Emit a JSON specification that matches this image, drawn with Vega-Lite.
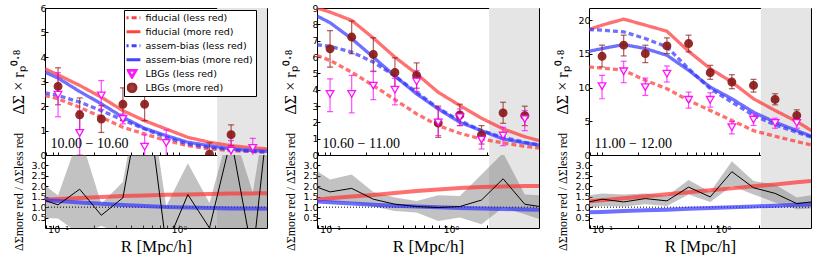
{
"$schema": "https://vega.github.io/schema/vega-lite/v6.json",
"padding": {"left": 9, "top": 2, "right": 0, "bottom": 0},
"background": "white",
"datasets": {
"L1": [
{"R":0.078,"fl":2.43,"fm":3.52,"al":2.54,"am":3.38},
{"R":0.1,"fl":2.29,"fm":3.27,"al":2.43,"am":3.14},
{"R":0.151,"fl":1.95,"fm":2.84,"al":2.16,"am":2.59},
{"R":0.228,"fl":1.54,"fm":2.36,"al":1.81,"am":2.09},
{"R":0.344,"fl":1.13,"fm":1.81,"al":1.43,"am":1.54},
{"R":0.52,"fl":0.86,"fm":1.40,"al":1.06,"am":1.09},
{"R":0.785,"fl":0.59,"fm":1.06,"al":0.72,"am":0.79},
{"R":1.185,"fl":0.38,"fm":0.72,"al":0.45,"am":0.52},
{"R":1.79,"fl":0.25,"fm":0.52,"al":0.31,"am":0.38},
{"R":2.7,"fl":0.18,"fm":0.38,"al":0.22,"am":0.25},
{"R":4.08,"fl":0.14,"fm":0.29,"al":0.15,"am":0.18},
{"R":5.4,"fl":0.11,"fm":0.25,"al":0.12,"am":0.15}],
"L2": [
{"R":0.078,"fl":6.09,"fm":9.0,"al":6.75,"am":8.51},
{"R":0.1,"fl":5.79,"fm":8.75,"al":6.65,"am":8.10},
{"R":0.151,"fl":5.07,"fm":8.24,"al":6.30,"am":7.12},
{"R":0.228,"fl":4.25,"fm":7.16,"al":5.69,"am":5.99},
{"R":0.344,"fl":3.39,"fm":5.99,"al":4.83,"am":4.83},
{"R":0.52,"fl":2.52,"fm":4.97,"al":3.84,"am":3.74},
{"R":0.785,"fl":1.80,"fm":3.84,"al":2.86,"am":2.82},
{"R":1.185,"fl":1.33,"fm":3.03,"al":2.11,"am":2.00},
{"R":1.79,"fl":0.98,"fm":2.25,"al":1.49,"am":1.49},
{"R":2.7,"fl":0.74,"fm":1.60,"al":1.08,"am":0.98},
{"R":4.08,"fl":0.53,"fm":1.12,"al":0.78,"am":0.74},
{"R":5.4,"fl":0.43,"fm":0.88,"al":0.61,"am":0.61}],
"L3": [
{"R":0.078,"fl":13.05,"fm":18.61,"al":18.61,"am":15.38},
{"R":0.1,"fl":12.9,"fm":19.26,"al":18.51,"am":15.78},
{"R":0.151,"fl":12.56,"fm":20.15,"al":18.26,"am":16.38},
{"R":0.228,"fl":11.07,"fm":19.26,"al":17.27,"am":15.78},
{"R":0.344,"fl":9.83,"fm":18.36,"al":16.03,"am":14.79},
{"R":0.52,"fl":8.09,"fm":15.38,"al":12.8,"am":12.56},
{"R":0.785,"fl":6.6,"fm":12.8,"al":9.83,"am":10.07},
{"R":1.185,"fl":5.11,"fm":10.82,"al":7.84,"am":8.34},
{"R":1.79,"fl":3.62,"fm":8.34,"al":5.86,"am":6.35},
{"R":2.7,"fl":2.78,"fm":6.6,"al":4.47,"am":4.86},
{"R":4.08,"fl":1.99,"fm":4.96,"al":3.37,"am":3.62},
{"R":5.4,"fl":1.49,"fm":3.62,"al":2.63,"am":2.78}],
"P1": [
{"R":0.1,"s":"lm","v":2.80,"lo":2.05,"hi":3.56},
{"R":0.151,"s":"lm","v":1.64,"lo":0.95,"hi":2.33},
{"R":0.228,"s":"lm","v":1.47,"lo":0.92,"hi":2.02},
{"R":0.344,"s":"lm","v":2.07,"lo":1.40,"hi":2.74},
{"R":0.52,"s":"lm","v":2.07,"lo":1.40,"hi":2.73},
{"R":1.79,"s":"lm","v":0.03,"lo":-0.5,"hi":0.5},
{"R":2.7,"s":"lm","v":0.83,"lo":0.38,"hi":1.23},
{"R":0.1,"s":"ll","v":2.46,"lo":1.56,"hi":3.36},
{"R":0.151,"s":"ll","v":0.90,"lo":0.0,"hi":1.80},
{"R":0.228,"s":"ll","v":2.43,"lo":1.85,"hi":3.04},
{"R":0.344,"s":"ll","v":1.47,"lo":1.27,"hi":1.67},
{"R":0.52,"s":"ll","v":0.34,"lo":-0.14,"hi":0.82},
{"R":0.785,"s":"ll","v":0.49,"lo":-0.05,"hi":1.02},
{"R":2.7,"s":"ll","v":0.18,"lo":-0.2,"hi":0.59},
{"R":4.08,"s":"ll","v":0.29,"lo":-0.1,"hi":0.68}],
"P2": [
{"R":0.1,"s":"lm","v":6.50,"lo":5.38,"hi":7.61},
{"R":0.151,"s":"lm","v":7.22,"lo":6.2,"hi":8.2},
{"R":0.228,"s":"lm","v":6.16,"lo":5.13,"hi":7.18},
{"R":0.344,"s":"lm","v":5.05,"lo":4.15,"hi":5.95},
{"R":0.52,"s":"lm","v":4.87,"lo":4.09,"hi":5.64},
{"R":0.785,"s":"lm","v":1.96,"lo":1.08,"hi":2.99},
{"R":1.185,"s":"lm","v":2.45,"lo":1.8,"hi":3.11},
{"R":1.79,"s":"lm","v":1.23,"lo":0.67,"hi":1.8},
{"R":2.7,"s":"lm","v":2.58,"lo":1.94,"hi":3.23},
{"R":4.08,"s":"lm","v":2.41,"lo":1.8,"hi":2.99},
{"R":0.1,"s":"ll","v":3.74,"lo":2.66,"hi":4.66},
{"R":0.151,"s":"ll","v":3.74,"lo":2.58,"hi":4.87},
{"R":0.228,"s":"ll","v":4.25,"lo":3.39,"hi":5.11},
{"R":0.344,"s":"ll","v":4.0,"lo":3.07,"hi":4.7},
{"R":0.52,"s":"ll","v":4.5,"lo":3.89,"hi":5.17},
{"R":0.785,"s":"ll","v":2.0,"lo":1.19,"hi":2.86},
{"R":1.185,"s":"ll","v":2.31,"lo":1.8,"hi":2.82},
{"R":1.79,"s":"ll","v":0.94,"lo":0.37,"hi":1.39},
{"R":2.7,"s":"ll","v":1.19,"lo":0.57,"hi":1.7},
{"R":4.08,"s":"ll","v":2.2,"lo":1.49,"hi":2.72}],
"P3": [
{"R":0.1,"s":"lm","v":14.64,"lo":13.05,"hi":16.28},
{"R":0.151,"s":"lm","v":16.28,"lo":14.69,"hi":17.77},
{"R":0.228,"s":"lm","v":15.04,"lo":13.7,"hi":16.28},
{"R":0.344,"s":"lm","v":16.18,"lo":15.04,"hi":17.37},
{"R":0.52,"s":"lm","v":16.53,"lo":15.29,"hi":17.77},
{"R":0.785,"s":"lm","v":12.21,"lo":11.22,"hi":13.3},
{"R":1.185,"s":"lm","v":10.82,"lo":9.83,"hi":11.91},
{"R":1.79,"s":"lm","v":10.32,"lo":9.33,"hi":11.22},
{"R":2.7,"s":"lm","v":8.24,"lo":7.44,"hi":9.08},
{"R":4.08,"s":"lm","v":5.86,"lo":5.11,"hi":6.7},
{"R":0.1,"s":"ll","v":10.22,"lo":8.34,"hi":11.81},
{"R":0.151,"s":"ll","v":12.41,"lo":10.72,"hi":13.9},
{"R":0.228,"s":"ll","v":10.07,"lo":8.83,"hi":11.41},
{"R":0.344,"s":"ll","v":12.06,"lo":10.82,"hi":13.2},
{"R":0.52,"s":"ll","v":8.19,"lo":6.95,"hi":9.33},
{"R":0.785,"s":"ll","v":8.19,"lo":7.1,"hi":9.23},
{"R":1.185,"s":"ll","v":4.12,"lo":3.13,"hi":4.96},
{"R":1.79,"s":"ll","v":5.26,"lo":4.37,"hi":6.1},
{"R":2.7,"s":"ll","v":4.76,"lo":3.97,"hi":5.46},
{"R":4.08,"s":"ll","v":4.76,"lo":3.97,"hi":5.36}],
"B1": [
{"R":0.078,"k":1.32,"lo":0.48,"hi":2.04,"red":1.36,"blue":1.33},
{"R":0.1,"k":1.11,"lo":0.45,"hi":1.56,"red":1.39,"blue":1.29},
{"R":0.151,"k":1.86,"lo":-0.3,"hi":4.5,"red":1.44,"blue":1.22},
{"R":0.228,"k":0.61,"lo":0.1,"hi":1.16,"red":1.49,"blue":1.16},
{"R":0.344,"k":1.45,"lo":-0.3,"hi":2.2,"red":1.53,"blue":1.10},
{"R":0.52,"k":7.2,"lo":-1,"hi":8,"red":1.56,"blue":1.05},
{"R":0.785,"k":-0.85,"lo":-1,"hi":1.05,"red":1.59,"blue":1.01},
{"R":1.185,"k":1.6,"lo":-1,"hi":3.1,"red":1.61,"blue":0.98},
{"R":1.79,"k":0.0,"lo":-1,"hi":1.2,"red":1.63,"blue":0.96},
{"R":2.7,"k":4.3,"lo":-1,"hi":5,"red":1.65,"blue":0.94},
{"R":4.08,"k":-1.35,"lo":-2,"hi":1.7,"red":1.66,"blue":0.93},
{"R":5.4,"k":5.1,"lo":-1,"hi":6,"red":1.67,"blue":0.92}],
"B2": [
{"R":0.078,"k":1.96,"lo":1.46,"hi":2.73,"red":1.35,"blue":1.27},
{"R":0.1,"k":1.73,"lo":1.25,"hi":2.33,"red":1.43,"blue":1.23},
{"R":0.151,"k":1.90,"lo":1.22,"hi":2.57,"red":1.51,"blue":1.17},
{"R":0.228,"k":1.38,"lo":1.03,"hi":1.73,"red":1.58,"blue":1.11},
{"R":0.344,"k":1.14,"lo":0.82,"hi":1.46,"red":1.68,"blue":1.07},
{"R":0.52,"k":1.03,"lo":0.74,"hi":1.30,"red":1.77,"blue":1.03},
{"R":0.785,"k":0.98,"lo":0.34,"hi":1.57,"red":1.85,"blue":0.99},
{"R":1.185,"k":1.03,"lo":0.50,"hi":1.54,"red":1.92,"blue":0.96},
{"R":1.79,"k":1.34,"lo":0.18,"hi":2.57,"red":1.96,"blue":0.93},
{"R":2.7,"k":2.36,"lo":0.98,"hi":3.6,"red":1.99,"blue":0.91},
{"R":4.08,"k":1.14,"lo":0.66,"hi":1.61,"red":2.01,"blue":0.89},
{"R":5.4,"k":1.03,"lo":0.42,"hi":1.57,"red":2.02,"blue":0.88}],
"B3": [
{"R":0.078,"k":1.25,"lo":0.98,"hi":1.57,"red":1.28,"blue":0.75},
{"R":0.1,"k":1.38,"lo":1.06,"hi":1.66,"red":1.33,"blue":0.77},
{"R":0.151,"k":1.25,"lo":1.03,"hi":1.61,"red":1.43,"blue":0.81},
{"R":0.228,"k":1.41,"lo":1.14,"hi":1.66,"red":1.52,"blue":0.85},
{"R":0.344,"k":1.30,"lo":1.06,"hi":1.53,"red":1.62,"blue":0.88},
{"R":0.52,"k":1.96,"lo":1.61,"hi":2.30,"red":1.71,"blue":0.92},
{"R":0.785,"k":1.49,"lo":1.25,"hi":1.73,"red":1.81,"blue":0.96},
{"R":1.185,"k":2.70,"lo":2.01,"hi":3.20,"red":1.90,"blue":0.99},
{"R":1.79,"k":1.93,"lo":1.61,"hi":2.25,"red":2.00,"blue":1.03},
{"R":2.7,"k":1.66,"lo":1.22,"hi":2.09,"red":2.09,"blue":1.07},
{"R":4.08,"k":1.17,"lo":0.90,"hi":1.46,"red":2.19,"blue":1.11},
{"R":5.4,"k":1.25,"lo":0.93,"hi":1.57,"red":2.25,"blue":1.13}]
},
"columns": 3,
"spacing": {"row": 0, "column": 50},
"bounds": "flush",
"concat": [
 {"width": 222, "height": 147,
  "layer": [
   {"data": {"values": [{"R": 2.07, "R2": 6}]}, "mark": {"type": "rect", "color": "#e5e5e5", "clip": true},
    "encoding": {"x": {"field": "R", "type": "quantitative", "scale": {"type": "log", "domain": [0.078, 5.35], "nice": false}, "axis": {"values": [0.08,0.09,0.1,0.2,0.3,0.4,0.5,0.6,0.7,0.8,0.9,1,2,3,4,5], "tickCount": 100, "labels": false, "title": null}}, "x2": {"field": "R2"}}},
   {"data": {"name": "L1"}, "transform": [{"fold": ["fl", "fm", "al", "am"], "as": ["s", "v"]}],
    "mark": {"type": "line", "strokeWidth": 3.3, "opacity": 0.7, "clip": true},
    "encoding": {"x": {"field": "R", "type": "quantitative"},
     "y": {"field": "v", "type": "quantitative", "scale": {"domain": [0, 6], "nice": false}, "axis": {"values": [0,1,2,3,4,5,6], "tickCount": 100, "format": "d", "labelOverlap": false, "title": "ΔΣ × rₚ⁰·⁸", "titleFontSize": 16, "titleX": -22, "titleBaseline": "alphabetic"}},
     "color": {"field": "s", "type": "nominal", "scale": {"domain": ["fl","fm","al","am","ll","lm"], "range": ["#ff3333","#ff3333","#3333ff","#3333ff","#ff00ff","#8b1a1a"]},
      "legend": {"orient": "none", "legendX": 79, "legendY": 2, "title": null,
       "labelFont": "DejaVu Sans", "labelFontSize": 9.5, "labelColor": "#000", "symbolSize": 64, "symbolStrokeWidth": 2.8, "clipHeight": 10.5, "rowPadding": 3, "padding": 2.5, "strokeColor": "#000", "fillColor": "#fff", "labelOffset": 8, "symbolOpacity": 0.85,
       "labelExpr": "datum.label == 'fl' ? 'fiducial (less red)' : datum.label == 'fm' ? 'fiducial (more red)' : datum.label == 'al' ? 'assem-bias (less red)' : datum.label == 'am' ? 'assem-bias (more red)' : datum.label == 'll' ? 'LBGs (less red)' : 'LBGs (more red)'"}},
     "strokeDash": {"field": "s", "type": "nominal", "scale": {"domain": ["fl","fm","al","am","ll","lm"], "range": [[5,3],[1,0],[5,3],[1,0],[1,0],[1,0]]},
      "legend": {"orient": "none", "legendX": 79, "legendY": 2, "title": null}}}},
   {"data": {"name": "P1"}, "transform": [{"filter": "datum.s == 'lm'"}], "mark": {"type": "rule", "color": "#8b1a1a", "strokeWidth": 1.2, "opacity": 0.7, "clip": true},
    "encoding": {"x": {"field": "R", "type": "quantitative"}, "y": {"field": "lo", "type": "quantitative"}, "y2": {"field": "hi"}}},
   {"data": {"name": "P1"}, "transform": [{"filter": "datum.s == 'lm'"}, {"fold": ["lo", "hi"], "as": ["e", "ev"]}], "mark": {"type": "tick", "orient": "horizontal", "color": "#8b1a1a", "size": 6, "thickness": 1.2, "opacity": 0.7, "clip": true},
    "encoding": {"x": {"field": "R", "type": "quantitative"}, "y": {"field": "ev", "type": "quantitative"}}},
   {"data": {"name": "P1"}, "transform": [{"filter": "datum.s == 'll'"}], "mark": {"type": "rule", "color": "#ff00ff", "strokeWidth": 1.2, "opacity": 0.7, "clip": true},
    "encoding": {"x": {"field": "R", "type": "quantitative"}, "y": {"field": "lo", "type": "quantitative"}, "y2": {"field": "hi"}}},
   {"data": {"name": "P1"}, "transform": [{"filter": "datum.s == 'll'"}, {"fold": ["lo", "hi"], "as": ["e", "ev"]}], "mark": {"type": "tick", "orient": "horizontal", "color": "#ff00ff", "size": 6, "thickness": 1.2, "opacity": 0.7, "clip": true},
    "encoding": {"x": {"field": "R", "type": "quantitative"}, "y": {"field": "ev", "type": "quantitative"}}},
   {"data": {"name": "P1"}, "mark": {"type": "point", "filled": false, "size": 58, "strokeWidth": 1.3, "opacity": 0.92, "clip": true},
    "encoding": {"x": {"field": "R", "type": "quantitative"}, "y": {"field": "v", "type": "quantitative"},
     "color": {"field": "s", "type": "nominal", "legend": {"orient": "none", "legendX": 79, "legendY": 2, "title": null}},
     "shape": {"field": "s", "type": "nominal", "scale": {"domain": ["fl","fm","al","am","ll","lm"], "range": ["M-2.1,0H2.1","M-2.1,0H2.1","M-2.1,0H2.1","M-2.1,0H2.1","triangle-down","circle"]}, "legend": {"orient": "none", "legendX": 79, "legendY": 2, "title": null}},
     "fill": {"field": "s", "type": "nominal", "scale": {"domain": ["fl","fm","al","am","ll","lm"], "range": ["transparent","transparent","transparent","transparent","#ffffff","#8b1a1a"]}, "legend": {"orient": "none", "legendX": 79, "legendY": 2, "title": null}}}},
   {"data": {"values": [{}]}, "mark": {"type": "text", "font": "Liberation Serif", "fontSize": 14, "align": "left", "baseline": "middle"},
    "encoding": {"x": {"datum": 0.0867}, "y": {"datum": 0.45}, "text": {"value": "10.00 − 10.60"}}}
  ]},
 {"width": 222, "height": 147,
  "layer": [
   {"data": {"values": [{"R": 2.07, "R2": 6}]}, "mark": {"type": "rect", "color": "#e5e5e5", "clip": true},
    "encoding": {"x": {"field": "R", "type": "quantitative", "scale": {"type": "log", "domain": [0.078, 5.35], "nice": false}, "axis": {"values": [0.08,0.09,0.1,0.2,0.3,0.4,0.5,0.6,0.7,0.8,0.9,1,2,3,4,5], "tickCount": 100, "labels": false, "title": null}}, "x2": {"field": "R2"}}},
   {"data": {"name": "L2"}, "transform": [{"fold": ["fl", "fm", "al", "am"], "as": ["s", "v"]}],
    "mark": {"type": "line", "strokeWidth": 3.3, "opacity": 0.7, "clip": true},
    "encoding": {"x": {"field": "R", "type": "quantitative"},
     "y": {"field": "v", "type": "quantitative", "scale": {"domain": [0, 9], "nice": false}, "axis": {"values": [0,1,2,3,4,5,6,7,8,9], "tickCount": 100, "format": "d", "labelOverlap": false, "title": "ΔΣ × rₚ⁰·⁸", "titleFontSize": 16, "titleX": -22, "titleBaseline": "alphabetic"}},
     "color": {"field": "s", "type": "nominal", "legend": null},
     "strokeDash": {"field": "s", "type": "nominal", "legend": null}}},
   {"data": {"name": "P2"}, "transform": [{"filter": "datum.s == 'lm'"}], "mark": {"type": "rule", "color": "#8b1a1a", "strokeWidth": 1.2, "opacity": 0.7, "clip": true},
    "encoding": {"x": {"field": "R", "type": "quantitative"}, "y": {"field": "lo", "type": "quantitative"}, "y2": {"field": "hi"}}},
   {"data": {"name": "P2"}, "transform": [{"filter": "datum.s == 'lm'"}, {"fold": ["lo", "hi"], "as": ["e", "ev"]}], "mark": {"type": "tick", "orient": "horizontal", "color": "#8b1a1a", "size": 6, "thickness": 1.2, "opacity": 0.7, "clip": true},
    "encoding": {"x": {"field": "R", "type": "quantitative"}, "y": {"field": "ev", "type": "quantitative"}}},
   {"data": {"name": "P2"}, "transform": [{"filter": "datum.s == 'll'"}], "mark": {"type": "rule", "color": "#ff00ff", "strokeWidth": 1.2, "opacity": 0.7, "clip": true},
    "encoding": {"x": {"field": "R", "type": "quantitative"}, "y": {"field": "lo", "type": "quantitative"}, "y2": {"field": "hi"}}},
   {"data": {"name": "P2"}, "transform": [{"filter": "datum.s == 'll'"}, {"fold": ["lo", "hi"], "as": ["e", "ev"]}], "mark": {"type": "tick", "orient": "horizontal", "color": "#ff00ff", "size": 6, "thickness": 1.2, "opacity": 0.7, "clip": true},
    "encoding": {"x": {"field": "R", "type": "quantitative"}, "y": {"field": "ev", "type": "quantitative"}}},
   {"data": {"name": "P2"}, "mark": {"type": "point", "filled": false, "size": 58, "strokeWidth": 1.3, "opacity": 0.92, "clip": true},
    "encoding": {"x": {"field": "R", "type": "quantitative"}, "y": {"field": "v", "type": "quantitative"},
     "color": {"field": "s", "type": "nominal", "legend": null}, "shape": {"field": "s", "type": "nominal", "legend": null}, "fill": {"field": "s", "type": "nominal", "legend": null}}},
   {"data": {"values": [{}]}, "mark": {"type": "text", "font": "Liberation Serif", "fontSize": 14, "align": "left", "baseline": "middle"},
    "encoding": {"x": {"datum": 0.0867}, "y": {"datum": 0.67}, "text": {"value": "10.60 − 11.00"}}}
  ]},
 {"width": 222, "height": 147,
  "layer": [
   {"data": {"values": [{"R": 2.06, "R2": 6}]}, "mark": {"type": "rect", "color": "#e5e5e5", "clip": true},
    "encoding": {"x": {"field": "R", "type": "quantitative", "scale": {"type": "log", "domain": [0.078, 5.35], "nice": false}, "axis": {"values": [0.08,0.09,0.1,0.2,0.3,0.4,0.5,0.6,0.7,0.8,0.9,1,2,3,4,5], "tickCount": 100, "labels": false, "title": null}}, "x2": {"field": "R2"}}},
   {"data": {"name": "L3"}, "transform": [{"fold": ["fl", "fm", "al", "am"], "as": ["s", "v"]}],
    "mark": {"type": "line", "strokeWidth": 3.3, "opacity": 0.7, "clip": true},
    "encoding": {"x": {"field": "R", "type": "quantitative"},
     "y": {"field": "v", "type": "quantitative", "scale": {"domain": [0, 21.8], "nice": false}, "axis": {"values": [0,5,10,15,20], "tickCount": 100, "format": "d", "labelOverlap": false, "title": "ΔΣ × rₚ⁰·⁸", "titleFontSize": 16, "titleX": -22, "titleBaseline": "alphabetic"}},
     "color": {"field": "s", "type": "nominal", "legend": null},
     "strokeDash": {"field": "s", "type": "nominal", "legend": null}}},
   {"data": {"name": "P3"}, "transform": [{"filter": "datum.s == 'lm'"}], "mark": {"type": "rule", "color": "#8b1a1a", "strokeWidth": 1.2, "opacity": 0.7, "clip": true},
    "encoding": {"x": {"field": "R", "type": "quantitative"}, "y": {"field": "lo", "type": "quantitative"}, "y2": {"field": "hi"}}},
   {"data": {"name": "P3"}, "transform": [{"filter": "datum.s == 'lm'"}, {"fold": ["lo", "hi"], "as": ["e", "ev"]}], "mark": {"type": "tick", "orient": "horizontal", "color": "#8b1a1a", "size": 6, "thickness": 1.2, "opacity": 0.7, "clip": true},
    "encoding": {"x": {"field": "R", "type": "quantitative"}, "y": {"field": "ev", "type": "quantitative"}}},
   {"data": {"name": "P3"}, "transform": [{"filter": "datum.s == 'll'"}], "mark": {"type": "rule", "color": "#ff00ff", "strokeWidth": 1.2, "opacity": 0.7, "clip": true},
    "encoding": {"x": {"field": "R", "type": "quantitative"}, "y": {"field": "lo", "type": "quantitative"}, "y2": {"field": "hi"}}},
   {"data": {"name": "P3"}, "transform": [{"filter": "datum.s == 'll'"}, {"fold": ["lo", "hi"], "as": ["e", "ev"]}], "mark": {"type": "tick", "orient": "horizontal", "color": "#ff00ff", "size": 6, "thickness": 1.2, "opacity": 0.7, "clip": true},
    "encoding": {"x": {"field": "R", "type": "quantitative"}, "y": {"field": "ev", "type": "quantitative"}}},
   {"data": {"name": "P3"}, "mark": {"type": "point", "filled": false, "size": 58, "strokeWidth": 1.3, "opacity": 0.92, "clip": true},
    "encoding": {"x": {"field": "R", "type": "quantitative"}, "y": {"field": "v", "type": "quantitative"},
     "color": {"field": "s", "type": "nominal", "legend": null}, "shape": {"field": "s", "type": "nominal", "legend": null}, "fill": {"field": "s", "type": "nominal", "legend": null}}},
   {"data": {"values": [{}]}, "mark": {"type": "text", "font": "Liberation Serif", "fontSize": 14, "align": "left", "baseline": "middle"},
    "encoding": {"x": {"datum": 0.0867}, "y": {"datum": 1.64}, "text": {"value": "11.00 − 12.00"}}}
  ]},
 {"width": 222, "height": 73,
  "layer": [
   {"data": {"values": [{"R": 2.07, "R2": 6}]}, "mark": {"type": "rect", "color": "#e5e5e5", "clip": true},
    "encoding": {"x": {"field": "R", "type": "quantitative", "scale": {"type": "log", "domain": [0.078, 5.35], "nice": false}, "axis": {"values": [0.08,0.09,0.1,0.2,0.3,0.4,0.5,0.6,0.7,0.8,0.9,1,2,3,4,5], "tickCount": 100, "labelOverlap": false, "labelPadding": -1, "labelExpr": "datum.value == 0.1 ? '10⁻¹' : datum.value == 1 ? '10⁰' : ''", "title": "R  [Mpc/h]", "titleFontSize": 17, "titlePadding": 5}}, "x2": {"field": "R2"}}},
   {"data": {"name": "B1"}, "mark": {"type": "area", "color": "#777777", "opacity": 0.45, "clip": true},
    "encoding": {"x": {"field": "R", "type": "quantitative"}, "y": {"field": "lo", "type": "quantitative", "scale": {"domain": [0, 3.5], "nice": false}, "axis": {"values": [0.5,1,1.5,2,2.5,3], "tickCount": 100, "labelOverlap": false, "format": ".1f", "title": "ΔΣmore red / ΔΣless red", "titleFontSize": 12, "titleX": -23, "titleBaseline": "alphabetic"}}, "y2": {"field": "hi"}}},
   {"data": {"values": [{"R": 0.078, "R2": 5.35, "y": 1}]}, "mark": {"type": "rule", "color": "#000", "strokeDash": [1, 2], "strokeWidth": 1},
    "encoding": {"x": {"field": "R", "type": "quantitative"}, "x2": {"field": "R2"}, "y": {"field": "y", "type": "quantitative"}}},
   {"data": {"name": "B1"}, "mark": {"type": "line", "color": "#ff3333", "strokeWidth": 4, "opacity": 0.7, "clip": true},
    "encoding": {"x": {"field": "R", "type": "quantitative"}, "y": {"field": "red", "type": "quantitative"}}},
   {"data": {"name": "B1"}, "mark": {"type": "line", "color": "#3333ff", "strokeWidth": 4, "opacity": 0.7, "clip": true},
    "encoding": {"x": {"field": "R", "type": "quantitative"}, "y": {"field": "blue", "type": "quantitative"}}},
   {"data": {"name": "B1"}, "mark": {"type": "line", "color": "#000", "strokeWidth": 1, "clip": true},
    "encoding": {"x": {"field": "R", "type": "quantitative"}, "y": {"field": "k", "type": "quantitative"}}}
  ]},
 {"width": 222, "height": 73,
  "layer": [
   {"data": {"values": [{"R": 2.07, "R2": 6}]}, "mark": {"type": "rect", "color": "#e5e5e5", "clip": true},
    "encoding": {"x": {"field": "R", "type": "quantitative", "scale": {"type": "log", "domain": [0.078, 5.35], "nice": false}, "axis": {"values": [0.08,0.09,0.1,0.2,0.3,0.4,0.5,0.6,0.7,0.8,0.9,1,2,3,4,5], "tickCount": 100, "labelOverlap": false, "labelPadding": -1, "labelExpr": "datum.value == 0.1 ? '10⁻¹' : datum.value == 1 ? '10⁰' : ''", "title": "R  [Mpc/h]", "titleFontSize": 17, "titlePadding": 5}}, "x2": {"field": "R2"}}},
   {"data": {"name": "B2"}, "mark": {"type": "area", "color": "#777777", "opacity": 0.45, "clip": true},
    "encoding": {"x": {"field": "R", "type": "quantitative"}, "y": {"field": "lo", "type": "quantitative", "scale": {"domain": [0, 3.5], "nice": false}, "axis": {"values": [0.5,1,1.5,2,2.5,3], "tickCount": 100, "labelOverlap": false, "format": ".1f", "title": "ΔΣmore red / ΔΣless red", "titleFontSize": 12, "titleX": -23, "titleBaseline": "alphabetic"}}, "y2": {"field": "hi"}}},
   {"data": {"values": [{"R": 0.078, "R2": 5.35, "y": 1}]}, "mark": {"type": "rule", "color": "#000", "strokeDash": [1, 2], "strokeWidth": 1},
    "encoding": {"x": {"field": "R", "type": "quantitative"}, "x2": {"field": "R2"}, "y": {"field": "y", "type": "quantitative"}}},
   {"data": {"name": "B2"}, "mark": {"type": "line", "color": "#ff3333", "strokeWidth": 4, "opacity": 0.7, "clip": true},
    "encoding": {"x": {"field": "R", "type": "quantitative"}, "y": {"field": "red", "type": "quantitative"}}},
   {"data": {"name": "B2"}, "mark": {"type": "line", "color": "#3333ff", "strokeWidth": 4, "opacity": 0.7, "clip": true},
    "encoding": {"x": {"field": "R", "type": "quantitative"}, "y": {"field": "blue", "type": "quantitative"}}},
   {"data": {"name": "B2"}, "mark": {"type": "line", "color": "#000", "strokeWidth": 1, "clip": true},
    "encoding": {"x": {"field": "R", "type": "quantitative"}, "y": {"field": "k", "type": "quantitative"}}}
  ]},
 {"width": 222, "height": 73,
  "layer": [
   {"data": {"values": [{"R": 2.06, "R2": 6}]}, "mark": {"type": "rect", "color": "#e5e5e5", "clip": true},
    "encoding": {"x": {"field": "R", "type": "quantitative", "scale": {"type": "log", "domain": [0.078, 5.35], "nice": false}, "axis": {"values": [0.08,0.09,0.1,0.2,0.3,0.4,0.5,0.6,0.7,0.8,0.9,1,2,3,4,5], "tickCount": 100, "labelOverlap": false, "labelPadding": -1, "labelExpr": "datum.value == 0.1 ? '10⁻¹' : datum.value == 1 ? '10⁰' : ''", "title": "R  [Mpc/h]", "titleFontSize": 17, "titlePadding": 5}}, "x2": {"field": "R2"}}},
   {"data": {"name": "B3"}, "mark": {"type": "area", "color": "#777777", "opacity": 0.45, "clip": true},
    "encoding": {"x": {"field": "R", "type": "quantitative"}, "y": {"field": "lo", "type": "quantitative", "scale": {"domain": [0, 3.5], "nice": false}, "axis": {"values": [0.5,1,1.5,2,2.5,3], "tickCount": 100, "labelOverlap": false, "format": ".1f", "title": "ΔΣmore red / ΔΣless red", "titleFontSize": 12, "titleX": -23, "titleBaseline": "alphabetic"}}, "y2": {"field": "hi"}}},
   {"data": {"values": [{"R": 0.078, "R2": 5.35, "y": 1}]}, "mark": {"type": "rule", "color": "#000", "strokeDash": [1, 2], "strokeWidth": 1},
    "encoding": {"x": {"field": "R", "type": "quantitative"}, "x2": {"field": "R2"}, "y": {"field": "y", "type": "quantitative"}}},
   {"data": {"name": "B3"}, "mark": {"type": "line", "color": "#ff3333", "strokeWidth": 4, "opacity": 0.7, "clip": true},
    "encoding": {"x": {"field": "R", "type": "quantitative"}, "y": {"field": "red", "type": "quantitative"}}},
   {"data": {"name": "B3"}, "mark": {"type": "line", "color": "#3333ff", "strokeWidth": 4, "opacity": 0.7, "clip": true},
    "encoding": {"x": {"field": "R", "type": "quantitative"}, "y": {"field": "blue", "type": "quantitative"}}},
   {"data": {"name": "B3"}, "mark": {"type": "line", "color": "#000", "strokeWidth": 1, "clip": true},
    "encoding": {"x": {"field": "R", "type": "quantitative"}, "y": {"field": "k", "type": "quantitative"}}}
  ]}
],
"config": {
 "view": {"stroke": "#000", "strokeWidth": 1},
 "axis": {"domain": false, "grid": false, "labelFont": "DejaVu Sans", "labelFontSize": 9.5, "labelColor": "#000", "labelOverlap": false, "tickColor": "#000", "tickSize": -3, "tickWidth": 1, "labelPadding": 2, "titleFont": "Liberation Serif", "titleFontWeight": "normal", "titleColor": "#000"}
}
}
